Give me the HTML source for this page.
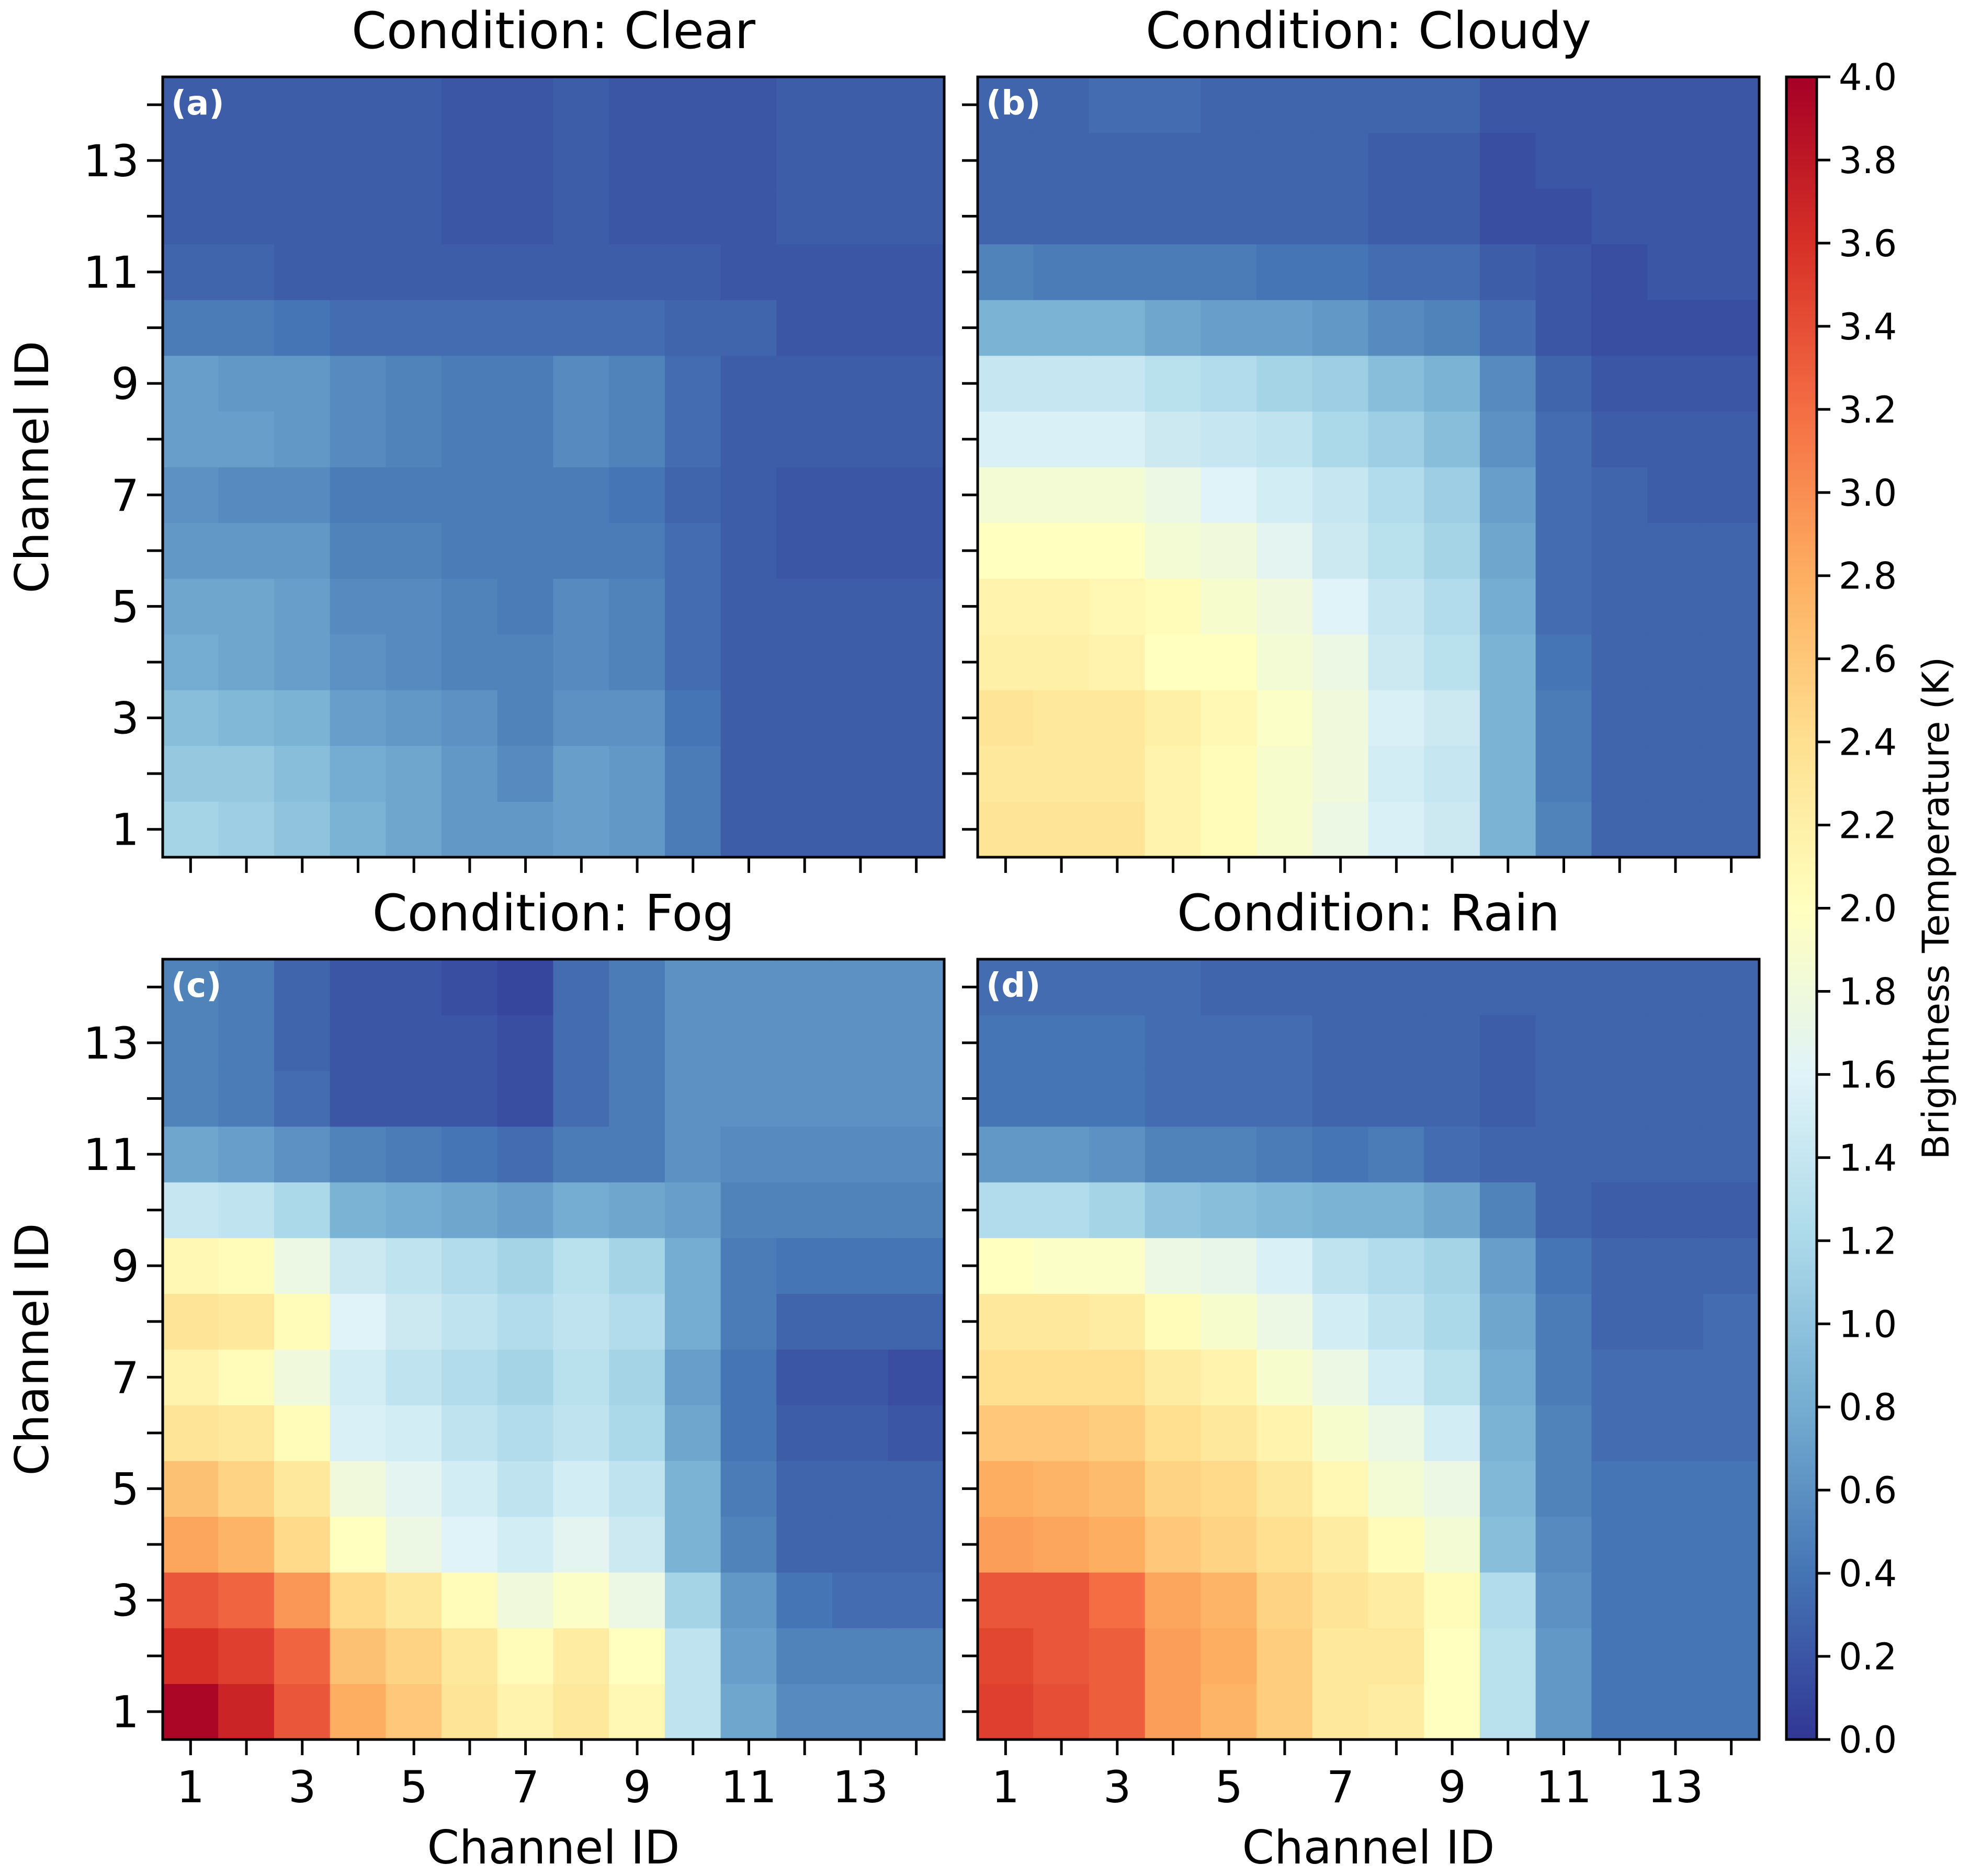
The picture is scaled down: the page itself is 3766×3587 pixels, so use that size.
<!DOCTYPE html>
<html><head><meta charset="utf-8"><style>
html,body{margin:0;padding:0;background:#fff}
svg{display:block;font-family:"DejaVu Sans","Liberation Sans",sans-serif}
</style></head><body>
<svg id="fig" width="3766" height="3587" viewBox="0 0 3766 3587" xmlns="http://www.w3.org/2000/svg"></svg>
<script>
// Data arrays: rows indexed by channel y = 1..14 (bottom to top), columns x = 1..14
const channels = [1,2,3,4,5,6,7,8,9,10,11,12,13,14];
const conditions = ["Clear","Cloudy","Fog","Rain"];
const panelTags = ["(a)","(b)","(c)","(d)"];
const cbTicks = [0,0.2,0.4,0.6,0.8,1.0,1.2,1.4,1.6,1.8,2.0,2.2,2.4,2.6,2.8,3.0,3.2,3.4,3.6,3.8,4.0];
const clearVals = [
[1.15,1.1,1.0,0.85,0.75,0.65,0.65,0.7,0.65,0.45,0.25,0.25,0.25,0.25],
[1.05,1.05,0.95,0.8,0.75,0.65,0.55,0.7,0.65,0.45,0.25,0.25,0.25,0.25],
[0.95,0.9,0.85,0.7,0.65,0.6,0.5,0.6,0.6,0.4,0.25,0.25,0.25,0.25],
[0.8,0.75,0.7,0.6,0.55,0.5,0.5,0.55,0.5,0.35,0.25,0.25,0.25,0.25],
[0.75,0.75,0.7,0.55,0.55,0.5,0.45,0.55,0.5,0.35,0.25,0.25,0.25,0.25],
[0.65,0.65,0.65,0.5,0.5,0.45,0.45,0.45,0.45,0.35,0.25,0.2,0.2,0.2],
[0.6,0.55,0.55,0.45,0.45,0.45,0.45,0.45,0.4,0.3,0.25,0.2,0.2,0.2],
[0.7,0.7,0.65,0.55,0.5,0.45,0.45,0.55,0.5,0.35,0.25,0.25,0.25,0.25],
[0.7,0.65,0.65,0.55,0.5,0.45,0.45,0.55,0.5,0.35,0.25,0.25,0.25,0.25],
[0.45,0.45,0.4,0.35,0.35,0.35,0.35,0.35,0.35,0.3,0.3,0.2,0.2,0.2],
[0.3,0.3,0.25,0.25,0.25,0.25,0.25,0.25,0.25,0.25,0.2,0.2,0.2,0.2],
[0.25,0.25,0.25,0.25,0.25,0.2,0.2,0.25,0.2,0.2,0.2,0.25,0.25,0.25],
[0.25,0.25,0.25,0.25,0.25,0.2,0.2,0.25,0.2,0.2,0.2,0.25,0.25,0.25],
[0.25,0.25,0.25,0.25,0.25,0.2,0.2,0.25,0.2,0.2,0.2,0.25,0.25,0.25]];
const cloudyVals = [
[2.35,2.35,2.35,2.15,2.05,1.9,1.75,1.55,1.45,0.85,0.5,0.3,0.3,0.3],
[2.3,2.3,2.3,2.15,2.05,1.9,1.8,1.5,1.4,0.85,0.45,0.3,0.3,0.3],
[2.35,2.3,2.3,2.2,2.1,1.95,1.8,1.55,1.45,0.85,0.45,0.3,0.3,0.3],
[2.2,2.2,2.15,2.0,2.0,1.85,1.75,1.45,1.3,0.85,0.4,0.3,0.3,0.3],
[2.15,2.15,2.1,2.05,1.9,1.8,1.6,1.4,1.25,0.8,0.35,0.3,0.3,0.3],
[2.0,2.0,2.0,1.85,1.8,1.65,1.45,1.3,1.15,0.75,0.35,0.3,0.3,0.3],
[1.85,1.85,1.85,1.75,1.6,1.5,1.4,1.25,1.1,0.7,0.35,0.3,0.25,0.25],
[1.55,1.55,1.55,1.45,1.4,1.35,1.2,1.1,0.95,0.6,0.35,0.25,0.25,0.25],
[1.4,1.4,1.4,1.3,1.25,1.15,1.1,0.95,0.85,0.55,0.3,0.2,0.2,0.2],
[0.85,0.85,0.85,0.75,0.7,0.7,0.65,0.55,0.5,0.35,0.2,0.15,0.15,0.15],
[0.5,0.45,0.45,0.45,0.45,0.4,0.4,0.35,0.35,0.25,0.2,0.15,0.2,0.2],
[0.3,0.3,0.3,0.3,0.3,0.3,0.3,0.25,0.25,0.15,0.15,0.2,0.2,0.2],
[0.3,0.3,0.3,0.3,0.3,0.3,0.3,0.25,0.25,0.15,0.2,0.2,0.2,0.2],
[0.3,0.3,0.35,0.35,0.3,0.3,0.3,0.3,0.3,0.2,0.2,0.2,0.2,0.2]];
const fogVals = [
[3.95,3.7,3.35,2.8,2.6,2.35,2.15,2.3,2.1,1.35,0.75,0.55,0.55,0.55],
[3.6,3.5,3.25,2.65,2.5,2.3,2.05,2.25,2.0,1.35,0.7,0.5,0.5,0.5],
[3.35,3.25,2.95,2.45,2.3,2.05,1.8,1.95,1.75,1.15,0.65,0.4,0.35,0.35],
[2.85,2.75,2.45,2.0,1.75,1.6,1.5,1.65,1.45,0.85,0.5,0.3,0.3,0.3],
[2.65,2.5,2.3,1.8,1.65,1.5,1.35,1.5,1.35,0.85,0.45,0.3,0.3,0.3],
[2.35,2.3,2.05,1.55,1.5,1.35,1.25,1.35,1.2,0.75,0.4,0.25,0.25,0.2],
[2.15,2.05,1.8,1.5,1.35,1.25,1.15,1.3,1.15,0.7,0.4,0.2,0.2,0.15],
[2.35,2.3,2.05,1.6,1.45,1.35,1.25,1.35,1.25,0.8,0.45,0.3,0.3,0.3],
[2.1,2.05,1.75,1.45,1.35,1.25,1.15,1.3,1.15,0.8,0.45,0.4,0.4,0.4],
[1.4,1.35,1.2,0.85,0.8,0.75,0.7,0.8,0.75,0.7,0.5,0.5,0.5,0.5],
[0.75,0.7,0.6,0.5,0.45,0.4,0.35,0.45,0.45,0.6,0.55,0.55,0.55,0.55],
[0.5,0.45,0.35,0.2,0.2,0.2,0.15,0.35,0.45,0.6,0.6,0.6,0.6,0.6],
[0.5,0.45,0.3,0.2,0.2,0.2,0.15,0.35,0.45,0.6,0.6,0.6,0.6,0.6],
[0.5,0.45,0.3,0.2,0.2,0.15,0.1,0.35,0.45,0.6,0.6,0.6,0.6,0.6]];
const rainVals = [
[3.5,3.4,3.3,2.9,2.75,2.55,2.3,2.25,2.0,1.3,0.65,0.4,0.4,0.4],
[3.45,3.35,3.3,2.9,2.8,2.55,2.3,2.3,2.0,1.3,0.65,0.4,0.4,0.4],
[3.35,3.35,3.2,2.85,2.75,2.5,2.35,2.25,2.05,1.25,0.6,0.4,0.4,0.4],
[2.9,2.85,2.8,2.6,2.5,2.4,2.25,2.05,1.85,0.95,0.55,0.4,0.4,0.4],
[2.8,2.75,2.7,2.5,2.45,2.3,2.1,1.85,1.75,0.9,0.5,0.4,0.4,0.4],
[2.6,2.6,2.55,2.4,2.3,2.15,1.9,1.75,1.5,0.85,0.5,0.35,0.35,0.35],
[2.4,2.4,2.4,2.25,2.15,1.9,1.75,1.5,1.3,0.8,0.45,0.35,0.35,0.35],
[2.3,2.3,2.25,2.05,1.9,1.75,1.5,1.35,1.2,0.75,0.45,0.3,0.3,0.35],
[2.0,1.95,1.95,1.75,1.7,1.55,1.35,1.25,1.15,0.7,0.4,0.3,0.3,0.3],
[1.25,1.25,1.15,1.0,0.95,0.9,0.85,0.85,0.75,0.5,0.3,0.25,0.25,0.25],
[0.65,0.65,0.6,0.5,0.5,0.45,0.4,0.45,0.35,0.3,0.3,0.3,0.3,0.3],
[0.4,0.4,0.4,0.35,0.35,0.35,0.3,0.3,0.3,0.25,0.3,0.3,0.3,0.3],
[0.4,0.4,0.4,0.35,0.35,0.35,0.3,0.3,0.3,0.25,0.3,0.3,0.3,0.3],
[0.35,0.35,0.35,0.35,0.3,0.3,0.3,0.3,0.3,0.3,0.3,0.3,0.3,0.3]];
const allVals = [clearVals, cloudyVals, fogVals, rainVals];

const NS = "http://www.w3.org/2000/svg";
const svg = document.getElementById('fig');
const stops = ["#313695","#4575b4","#74add1","#abd9e9","#e0f3f8","#ffffbf","#fee090","#fdae61","#f46d43","#d73027","#a50026"];
function hex(h){return [1,3,5].map(i=>parseInt(h.substr(i,2),16));}
const stopRGB = stops.map(hex);
function cmap(v){
  let t = Math.max(0, Math.min(1, v/4)) * 10;
  let i = Math.min(9, Math.floor(t)), f = t - i;
  const a = stopRGB[i], b = stopRGB[i+1];
  return "rgb(" + a.map((c,k)=>Math.round(c + (b[k]-c)*f)).join(",") + ")";
}
function el(tag, attrs, parent){
  const e = document.createElementNS(NS, tag);
  for (const k in attrs) e.setAttribute(k, attrs[k]);
  (parent||svg).appendChild(e); return e;
}
const panels = [{x:311,y:147},{x:1869,y:147},{x:311,y:1834},{x:1869,y:1834}];
const PW = 1494, PH = 1492;
const tickFont = 84;
panels.forEach((p, pi) => {
  const g = el('g', {});
  
  
  const cw = PW / 14, ch = PH / 14;
  const xs = c => p.x + (c - 1) * cw;        // left edge of channel c column
  const ys = r => p.y + PH - r * ch;         // top edge of channel r row
  const vals = allVals[pi];
  channels.forEach((cy, ri) => {
    channels.forEach((cx, ci) => {
      const r = el('rect', {x: xs(cx) - 0.5, y: ys(cy) - 0.5, width: cw + 1, height: ch + 1, fill: cmap(vals[ri][ci])}, g);
      
      
    });
  });
  const fr = el('rect', {x: p.x, y: p.y, width: PW, height: PH, fill: 'none', stroke: '#000', 'stroke-width': 5}, g);
  
  
  const t = el('text', {x: p.x + PW/2, y: p.y - 55, 'text-anchor': 'middle', 'font-size': 96, fill: '#000'}, g);
  t.textContent = "Condition: " + conditions[pi];
  
  
  const tag = el('text', {x: p.x + 16, y: p.y + 72, 'font-size': 64, 'font-weight': 'bold', fill: '#fff'}, g);
  tag.textContent = panelTags[pi];
  
  
  channels.forEach(c => {
    const cx = xs(c) + cw/2, cy = ys(c) + ch/2;
    el('line', {x1: cx, y1: p.y + PH, x2: cx, y2: p.y + PH + 30, stroke: '#000', 'stroke-width': 5}, g);
    el('line', {x1: p.x, y1: cy, x2: p.x - 30, y2: cy, stroke: '#000', 'stroke-width': 5}, g);
    if (c % 2 === 1) {
      if (pi >= 2) {
        const tl = el('text', {x: cx, y: p.y + PH + 120, 'text-anchor': 'middle', 'font-size': tickFont}, g);
        tl.textContent = c;
        
        
      }
      if (pi % 2 === 0) {
        const tl = el('text', {x: p.x - 45, y: cy + 30, 'text-anchor': 'end', 'font-size': tickFont}, g);
        tl.textContent = c;
        
        
      }
    }
  });
  if (pi >= 2) {
    const xl = el('text', {x: p.x + PW/2, y: 3563, 'text-anchor': 'middle', 'font-size': 88}, g);
    xl.textContent = "Channel ID";
    
    
  }
  if (pi % 2 === 0) {
    const yc = p.y + PH/2;
    const yl = el('text', {x: 0, y: 0, 'text-anchor': 'middle', 'font-size': 88, transform: `translate(92,${yc}) rotate(-90)`}, g);
    yl.textContent = "Channel ID";
    
    
  }
});
// Colorbar
const cb = el('g', {});


const cbX = 3415, cbW = 58, cbTop = 147, cbBot = 3326;
const cbY = v => cbBot - (v / 4) * (cbBot - cbTop);
const defs = el('defs', {}, cb);
const grad = el('linearGradient', {id: 'cbg', x1: 0, y1: 1, x2: 0, y2: 0}, defs);
stops.forEach((s, i) => el('stop', {offset: i/10, 'stop-color': s}, grad));
el('rect', {x: cbX, y: cbTop, width: cbW, height: cbBot - cbTop, fill: 'url(#cbg)', stroke: '#000', 'stroke-width': 5}, cb);
cbTicks.forEach(v => {
  const y = cbY(v);
  el('line', {x1: cbX + cbW, y1: y, x2: cbX + cbW + 26, y2: y, stroke: '#000', 'stroke-width': 5}, cb);
  const t = el('text', {x: cbX + cbW + 42, y: y + 25, 'font-size': 70}, cb);
  t.textContent = v.toFixed(1);
  
  
});
const cbl = el('text', {x: 0, y: 0, 'text-anchor': 'middle', 'font-size': 70, transform: `translate(3725,${(cbTop+cbBot)/2}) rotate(-90)`}, cb);
cbl.textContent = "Brightness Temperature (K)";


</script>
</body></html>
